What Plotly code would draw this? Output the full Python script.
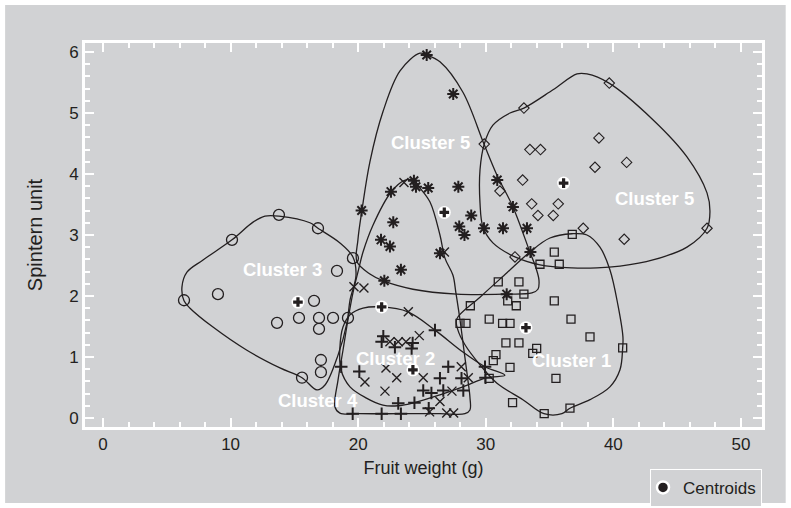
import plotly.graph_objects as go

# ---------------- data (fruit weight in g, spintern unit) ----------------
c3_x = [6.35, 9.01, 10.11, 13.79, 16.85, 19.59, 18.34, 16.54, 13.64, 15.36, 16.93,
        18.03, 19.20, 16.93, 17.08, 17.08, 15.60]
c3_y = [1.93, 2.03, 2.92, 3.33, 3.11, 2.62, 2.41, 1.92, 1.56, 1.64, 1.64,
        1.64, 1.64, 1.46, 0.95, 0.75, 0.66]

c5a_x = [25.37, 27.45, 20.27, 22.57, 24.37, 24.53, 25.49, 27.85, 22.75, 21.79, 22.49, 23.35,
         22.05, 26.41, 28.86, 27.92, 28.33, 29.86, 31.35, 33.23, 30.90, 32.13, 33.50, 31.64]
c5a_y = [5.95, 5.31, 3.40, 3.71, 3.89, 3.79, 3.77, 3.79, 3.21, 2.92, 2.81, 2.43,
         2.25, 2.70, 3.32, 3.14, 3.00, 3.11, 3.11, 3.11, 3.90, 3.46, 2.72, 2.03]

c5b_x = [32.99, 39.68, 29.88, 33.46, 34.29, 38.87, 38.56, 41.04, 32.89, 31.11, 33.60,
         35.68, 34.09, 35.29, 37.64, 40.85, 47.34, 32.29]
c5b_y = [5.08, 5.49, 4.49, 4.40, 4.40, 4.59, 4.11, 4.19, 3.90, 3.72, 3.51,
         3.51, 3.32, 3.32, 3.11, 2.93, 3.11, 2.64]

c1_x = [36.78, 35.37, 34.25, 35.76, 30.98, 32.60, 32.99, 31.72, 32.39, 35.37, 28.79,
        30.27, 31.32, 31.90, 27.98, 28.45, 36.68, 38.17, 31.58, 32.60, 33.99, 33.68,
        30.80, 30.59, 31.90, 40.73, 30.27, 35.50, 32.10, 34.58, 36.60]
c1_y = [3.01, 2.72, 2.52, 2.52, 2.23, 2.23, 2.03, 1.92, 1.84, 1.92, 1.84,
        1.62, 1.55, 1.55, 1.55, 1.55, 1.62, 1.33, 1.23, 1.23, 1.14, 1.06,
        1.04, 0.94, 0.83, 1.15, 0.65, 0.65, 0.25, 0.07, 0.16]

c2_x = [23.59, 26.76, 19.67, 20.45, 23.93, 22.49, 23.14, 23.75, 24.79, 22.18, 23.02,
        20.53, 22.10, 25.10, 28.08, 28.63, 27.35, 26.41, 25.60, 26.94, 27.48]
c2_y = [3.86, 2.72, 2.15, 2.13, 1.74, 1.25, 1.25, 1.25, 1.35, 0.82, 0.66,
        0.59, 0.44, 0.66, 0.84, 0.66, 0.44, 0.27, 0.10, 0.08, 0.08]

c4_x = [21.97, 21.84, 22.88, 24.27, 24.19, 26.02, 18.67, 20.09, 27.06, 26.41, 28.10, 29.94,
        29.98, 25.10, 25.74, 26.67, 28.24, 23.14, 24.41, 25.53, 19.57, 21.84, 23.35]
c4_y = [1.34, 1.25, 1.16, 1.23, 1.14, 1.44, 0.84, 0.76, 0.84, 0.65, 0.65, 0.84,
        0.66, 0.45, 0.41, 0.45, 0.45, 0.24, 0.25, 0.16, 0.07, 0.07, 0.07]

centroid_x = [15.28, 21.84, 24.29, 26.75, 33.15, 36.10]
centroid_y = [1.90, 1.82, 0.79, 3.37, 1.48, 3.85]

# cluster boundary outlines
b5a_x = [24.84, 23.28, 21.94, 20.92, 20.30, 19.98, 19.91, 20.92, 21.94, 24.29, 27.74, 31.58,
         33.62, 34.09, 34.17, 33.93, 33.46, 32.13, 30.88, 29.86, 28.21, 26.41, 25.39, 24.84]
b5a_y = [5.98, 5.69, 5.02, 4.20, 3.41, 2.92, 2.56, 2.36, 2.25, 2.11, 2.03, 2.03,
         2.05, 2.11, 2.26, 2.46, 2.72, 3.46, 3.98, 4.49, 5.34, 5.84, 5.95, 5.98]

b5b_x = [29.88, 30.56, 31.90, 32.99, 35.27, 37.15, 37.93, 39.66, 43.10, 45.77, 47.34, 47.57,
         47.34, 45.77, 43.10, 40.52, 38.71, 36.75, 34.25, 32.29, 30.56, 29.78, 29.55, 29.55, 29.88]
b5b_y = [4.49, 4.80, 5.00, 5.08, 5.38, 5.64, 5.64, 5.49, 4.89, 4.28, 3.69, 3.38,
         3.11, 2.80, 2.59, 2.49, 2.46, 2.46, 2.51, 2.64, 2.87, 3.13, 3.52, 4.07, 4.49]

b3_x = [6.35, 6.19, 6.58, 7.84, 10.11, 11.76, 12.70, 13.79, 16.22, 16.85, 18.57, 19.59,
        19.83, 19.36, 19.12, 18.42, 17.40, 16.77, 15.60, 13.87, 11.28, 8.62, 6.82, 6.35]
b3_y = [1.92, 2.15, 2.39, 2.59, 2.92, 3.21, 3.31, 3.31, 3.20, 3.11, 2.87, 2.64,
        2.34, 1.93, 1.56, 1.03, 0.54, 0.46, 0.66, 0.82, 1.11, 1.49, 1.80, 1.92]

b2_x = [23.59, 24.29, 24.84, 25.63, 26.41, 26.80, 27.43, 27.66, 27.98, 28.29, 28.60, 28.76,
        28.76, 28.37, 26.41, 23.28, 20.14, 18.57, 18.18, 18.42, 18.81, 19.20, 19.59, 19.98,
        20.38, 21.16, 22.57, 23.59]
b2_y = [3.89, 3.90, 3.77, 3.54, 3.00, 2.62, 2.34, 2.05, 1.61, 1.11, 0.62, 0.34,
        0.13, 0.07, 0.07, 0.07, 0.07, 0.08, 0.18, 0.62, 1.11, 1.61, 2.05, 2.39,
        2.72, 3.16, 3.70, 3.89]

b4_x = [21.84, 23.90, 26.02, 28.21, 29.94, 31.50, 30.09, 28.21, 26.41, 24.37, 23.12, 21.94,
        20.61, 19.36, 18.65, 18.57, 18.81, 19.36, 20.38, 21.84]
b4_y = [1.82, 1.74, 1.44, 1.08, 0.84, 0.70, 0.66, 0.51, 0.38, 0.25, 0.20, 0.21,
        0.33, 0.51, 0.79, 1.16, 1.49, 1.69, 1.80, 1.82]

b1_x = [27.72, 29.55, 31.66, 33.46, 35.03, 36.75, 37.93, 38.95, 39.73, 40.36, 40.75, 40.73,
        40.52, 39.73, 38.17, 36.60, 35.97, 34.56, 32.91, 30.88, 29.55, 28.37, 27.82, 27.72]
b1_y = [1.62, 1.98, 2.38, 2.72, 2.95, 3.02, 3.00, 2.80, 2.43, 1.85, 1.33, 1.15,
        0.79, 0.51, 0.30, 0.16, 0.07, 0.07, 0.30, 0.57, 0.87, 1.20, 1.44, 1.62]

label_text = ["Cluster 5", "Cluster 5", "Cluster 3", "Cluster 2", "Cluster 4", "Cluster 1"]
label_x = [25.63, 43.26, 14.10, 22.96, 16.89, 36.70]
label_y = [4.51, 3.59, 2.43, 0.98, 0.29, 0.95]

x_ticks = [0, 10, 20, 30, 40, 50]
y_ticks = [0, 1, 2, 3, 4, 5, 6]

# ---------------- styling ----------------
INK = "#231f20"
BG = "#d1d2d4"
FONT = "Liberation Sans, Arial, sans-serif"

fig = go.Figure()

for bx, by in [(b5a_x, b5a_y), (b5b_x, b5b_y), (b3_x, b3_y), (b2_x, b2_y),
               (b4_x, b4_y), (b1_x, b1_y)]:
    fig.add_trace(go.Scatter(x=bx, y=by, mode="lines",
                             line=dict(color=INK, width=1.3, shape="spline", smoothing=1.0),
                             hoverinfo="skip", showlegend=False))

point_sets = [
    (c3_x, c3_y, "circle-open", 11, 1.3),
    (c5a_x, c5a_y, "asterisk-open", 10, 2.0),
    (c5b_x, c5b_y, "diamond-open", 8, 1.1),
    (c1_x, c1_y, "square-open", 8, 1.3),
    (c2_x, c2_y, "x-thin-open", 9, 1.4),
    (c4_x, c4_y, "cross-thin-open", 9, 2.0),
]
for px, py, sym, size, lw in point_sets:
    fig.add_trace(go.Scatter(x=px, y=py, mode="markers",
                             marker=dict(symbol=sym, size=size, color=INK,
                                         line=dict(color=INK, width=lw)),
                             showlegend=False))

# centroids: white disc with a dark plus
fig.add_trace(go.Scatter(x=centroid_x, y=centroid_y, mode="markers",
                         marker=dict(symbol="circle", size=13, color="white",
                                     line=dict(width=0)),
                         showlegend=False))
fig.add_trace(go.Scatter(x=centroid_x, y=centroid_y, mode="markers",
                         marker=dict(symbol="cross", size=8, color=INK,
                                     line=dict(width=0)),
                         showlegend=False))
fig.add_trace(go.Scatter(x=[None], y=[None], mode="markers", name="Centroids",
                         marker=dict(symbol="circle", size=12, color=INK,
                                     line=dict(color="white", width=2.5)),
                         showlegend=True))

for t, lx, ly in zip(label_text, label_x, label_y):
    fig.add_annotation(x=lx, y=ly, text="<b>%s</b>" % t, showarrow=False,
                       font=dict(family=FONT, size=18.5, color="white"))

axis_common = dict(
    showgrid=False, zeroline=False,
    showline=True, linecolor="white", linewidth=3, mirror="ticks",
    ticks="inside", ticklen=9, tickwidth=2, tickcolor="white",
    tickfont=dict(family=FONT, size=17, color=INK),
)

fig.update_layout(
    width=791, height=508,
    margin=dict(l=85, r=29, t=43, b=81, autoexpand=False),
    paper_bgcolor="white", plot_bgcolor=BG,
    font=dict(family=FONT, size=17, color=INK),
    xaxis=dict(range=[-1.41, 51.65], tickvals=x_ticks,
               minor=dict(dtick=2, tick0=0, ticks="inside", ticklen=5, tickwidth=2,
                          tickcolor="white", showgrid=False),
               title=dict(text="Fruit weight (g)", standoff=8,
                          font=dict(family=FONT, size=18, color=INK)),
               **axis_common),
    yaxis=dict(range=[-0.148, 6.147], tickvals=y_ticks,
               minor=dict(dtick=0.2, tick0=0, ticks="inside", ticklen=5, tickwidth=2,
                          tickcolor="white", showgrid=False),
               title=dict(text="Spintern unit", standoff=22,
                          font=dict(family=FONT, size=20, color=INK)),
               **axis_common),
    legend=dict(x=1.0, xanchor="right", y=-0.109, yanchor="top",
                bgcolor=BG, bordercolor="white", borderwidth=1, indentation=-8,
                font=dict(family=FONT, size=17, color=INK)),
    shapes=[dict(type="rect", xref="paper", yref="paper", layer="below",
                 x0=-0.118, x1=1.035, y0=-0.198, y1=1.099,
                 fillcolor=BG, line=dict(width=0))],
)

fig.write_html("out.html")
